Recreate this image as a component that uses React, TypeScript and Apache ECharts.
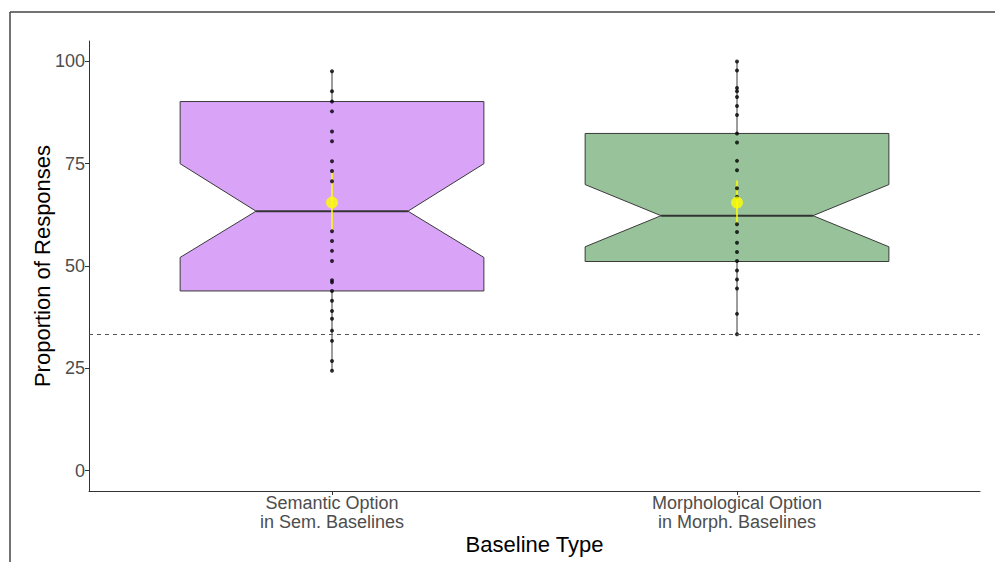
import React, { useEffect, useRef } from "react";
import * as echarts from "echarts";

// Groups along the x axis
const categories = [
  "Semantic Option\nin Sem. Baselines",
  "Morphological Option\nin Morph. Baselines",
];

// Notched box statistics per group (percent)
const whiskerLow = [24.4, 33.3];
const q1 = [43.9, 51.1];
const notchLow = [52.1, 54.7];
const median = [63.4, 62.3];
const notchHigh = [75.0, 69.9];
const q3 = [90.2, 82.4];
const whiskerHigh = [97.6, 100];

// Mean with its interval (yellow)
const means = [65.5, 65.5];
const meanLow = [58.5, 60.2];
const meanHigh = [72.9, 70.9];

// Individual participant proportions
const semanticPoints = [
  97.6, 92.7, 90.2, 87.8, 82.9, 80.5, 75.6, 73.2, 70.7, 58.5, 56.1, 53.7, 51.2,
  46.5, 46.0, 43.9, 41.5, 39.0, 37.1, 34.2, 31.7, 26.8, 24.4,
];
const morphologicalPoints = [
  100, 97.8, 93.5, 92.7, 91.3, 89.1, 86.9, 82.4, 80.2, 75.7, 73.4, 69.0, 66.9,
  60.2, 58.3, 55.7, 53.4, 51.2, 48.9, 46.7, 44.5, 38.3, 33.3,
];

// Chance level reference
const chanceLevel = 33.33;

const yTicks = [0, 25, 50, 75, 100];
const boxColors = ["#D9A4F8", "#98C29A"];

const FONT = "'Liberation Sans', Arial, sans-serif";

export default function App() {
  const ref = useRef<HTMLDivElement>(null);

  useEffect(() => {
    if (!ref.current) return;
    const chart = echarts.init(ref.current, undefined, { renderer: "svg" });

    const boxData = categories.map((_, i) => [
      i + 1,
      whiskerLow[i],
      q1[i],
      notchLow[i],
      median[i],
      notchHigh[i],
      q3[i],
      whiskerHigh[i],
    ]);
    const barData = categories.map((_, i) => [i + 1, meanLow[i], meanHigh[i]]);
    const pointData = [
      ...semanticPoints.map((v) => [1, v]),
      ...morphologicalPoints.map((v) => [2, v]),
    ];
    const meanData = means.map((v, i) => [i + 1, v]);

    const stroke = "#3a3a3a";

    chart.setOption({
      animation: false,
      textStyle: { fontFamily: FONT },
      grid: {
        left: 89,
        right: 15,
        top: 41,
        bottom: 71,
        outerBoundsMode: "none",
      },
      graphic: [
        {
          type: "line",
          shape: { x1: 10, y1: 12, x2: 995, y2: 12 },
          style: { stroke: "#444", lineWidth: 1.5 },
        },
        {
          type: "line",
          shape: { x1: 10, y1: 12, x2: 10, y2: 562 },
          style: { stroke: "#444", lineWidth: 1.5 },
        },
      ],
      xAxis: {
        type: "value",
        min: 0.4,
        max: 2.6,
        name: "Baseline Type",
        nameLocation: "middle",
        nameGap: 42,
        nameMoveOverlap: false,
        nameTextStyle: { fontSize: 22, color: "#000", fontFamily: FONT },
        splitLine: { show: false },
        axisLine: { onZero: false, lineStyle: { color: "#333", width: 1 } },
        axisTick: {
          customValues: [1, 2],
          length: 4,
          lineStyle: { color: "#333" },
        },
        axisLabel: {
          customValues: [1, 2],
          formatter: (v: number) => categories[Math.round(v) - 1] ?? "",
          fontSize: 18,
          lineHeight: 19,
          color: "#4D4D4D",
          margin: 2,
          fontFamily: FONT,
        },
      },
      yAxis: {
        type: "value",
        min: -5,
        max: 105,
        name: "Proportion of Responses",
        nameLocation: "middle",
        nameGap: 36,
        nameMoveOverlap: false,
        nameTextStyle: { fontSize: 22, color: "#000", fontFamily: FONT },
        splitLine: { show: false },
        axisLine: {
          show: true,
          onZero: false,
          lineStyle: { color: "#333", width: 1 },
        },
        axisTick: {
          show: true,
          customValues: yTicks,
          length: 4,
          lineStyle: { color: "#333" },
        },
        axisLabel: {
          customValues: yTicks,
          fontSize: 18,
          color: "#4D4D4D",
          margin: 4,
          fontFamily: FONT,
        },
      },
      series: [
        {
          type: "custom",
          data: boxData,
          encode: { x: 0, y: [1, 2, 3, 4, 5, 6, 7] },
          renderItem: (params: any, api: any) => {
            const x = api.value(0);
            const idx = Math.round(x) - 1;
            const w = api.size([0.75, 0])[0];
            const c = api.coord([x, 0])[0];
            const xl = c - w / 2;
            const xr = c + w / 2;
            const nl = c - w / 4;
            const nr = c + w / 4;
            const y = (k: number) => api.coord([x, api.value(k)])[1];
            const yWl = y(1),
              yQ1 = y(2),
              yNl = y(3),
              yMed = y(4),
              yNh = y(5),
              yQ3 = y(6),
              yWh = y(7);
            return {
              type: "group",
              children: [
                {
                  type: "line",
                  shape: { x1: c, y1: yWh, x2: c, y2: yQ3 },
                  style: { stroke, lineWidth: 1 },
                },
                {
                  type: "line",
                  shape: { x1: c, y1: yQ1, x2: c, y2: yWl },
                  style: { stroke, lineWidth: 1 },
                },
                {
                  type: "polygon",
                  shape: {
                    points: [
                      [xl, yQ3],
                      [xr, yQ3],
                      [xr, yNh],
                      [nr, yMed],
                      [xr, yNl],
                      [xr, yQ1],
                      [xl, yQ1],
                      [xl, yNl],
                      [nl, yMed],
                      [xl, yNh],
                    ],
                  },
                  style: { fill: boxColors[idx], stroke, lineWidth: 1 },
                },
                {
                  type: "line",
                  shape: { x1: nl, y1: yMed, x2: nr, y2: yMed },
                  style: { stroke: "#333", lineWidth: 2 },
                },
              ],
            };
          },
          markLine: {
            silent: true,
            symbol: "none",
            label: { show: false },
            lineStyle: { color: "#555", type: [4, 4], width: 1 },
            data: [{ yAxis: chanceLevel }],
          },
        },
        {
          type: "custom",
          data: barData,
          encode: { x: 0, y: [1, 2] },
          renderItem: (params: any, api: any) => {
            const x = api.value(0);
            const p1 = api.coord([x, api.value(1)]);
            const p2 = api.coord([x, api.value(2)]);
            return {
              type: "line",
              shape: { x1: p1[0], y1: p1[1], x2: p2[0], y2: p2[1] },
              style: { stroke: "#FFFF00", lineWidth: 1.5 },
            };
          },
        },
        {
          type: "scatter",
          data: pointData,
          symbol: "circle",
          symbolSize: 4,
          itemStyle: { color: "#000" },
        },
        {
          type: "scatter",
          data: meanData,
          symbol: "circle",
          symbolSize: 12,
          itemStyle: { color: "#FFFF00" },
        },
      ],
    });

    return () => chart.dispose();
  }, []);

  return (
    <div
      ref={ref}
      style={{
        position: "fixed",
        left: 0,
        top: 0,
        width: 995,
        height: 562,
        background: "#fff",
      }}
    />
  );
}
